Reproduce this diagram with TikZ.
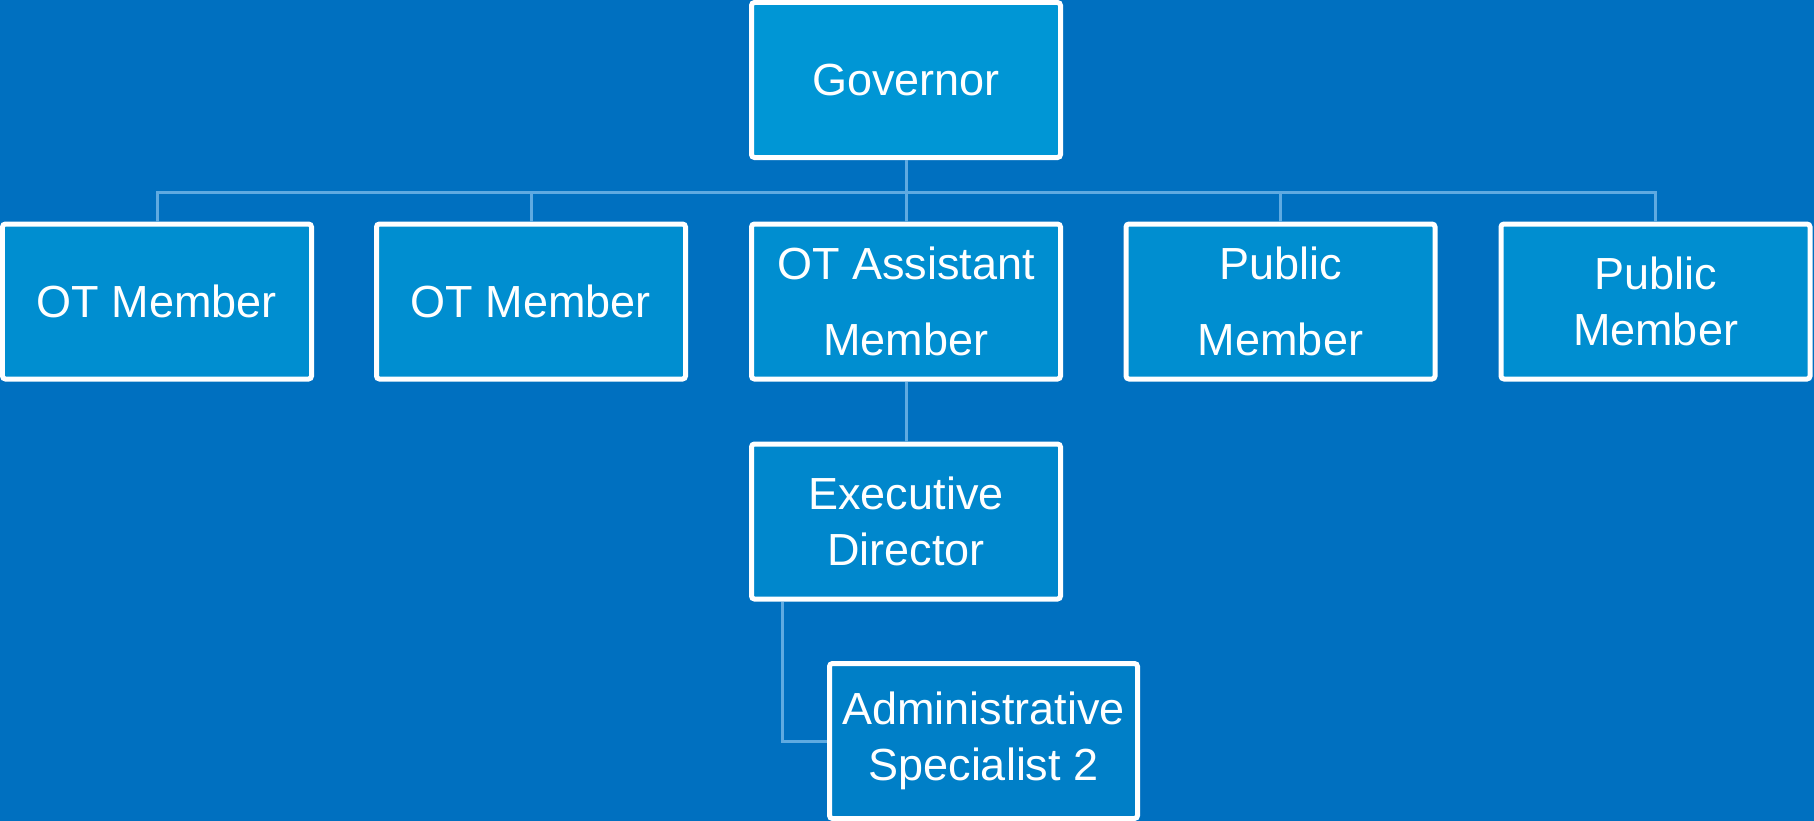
\documentclass[tikz,border=0pt]{standalone}
\usepackage{fontspec}
\setmainfont{Liberation Sans}
\definecolor{bg}{RGB}{0,112,192}
\definecolor{lvA}{RGB}{0,150,213}
\definecolor{lvB}{RGB}{0,142,208}
\definecolor{lvC}{RGB}{0,135,204}
\definecolor{lvD}{RGB}{0,127,199}
\definecolor{connc}{RGB}{95,170,225}
\begin{document}
\begin{tikzpicture}[x=1bp,y=-1bp,
  box/.style={draw=white, line width=5bp, rounded corners=3bp,
    minimum width=309bp, minimum height=155bp, text=white, align=center,
    inner sep=0pt, font=\fontsize{45bp}{56bp}\selectfont},
  wide/.style={font=\fontsize{45bp}{76bp}\selectfont},
  conn/.style={draw=connc, line width=3bp}]
\fill[bg] (0,0) rectangle (1814,821);
\useasboundingbox (0,0) rectangle (1814,821);
\coordinate (bar) at (0,192);
\coordinate (edx) at (782,0);
\node[box, fill=lvA] (gov) at (906,80) {Governor};
\node[box, fill=lvB] (m1) at (157,301.5) {OT Member};
\node[box, fill=lvB] (m2) at (531,301.5) {OT Member};
\node[box, fill=lvB, wide] (a) at (906,301.5) {OT Assistant\\Member};
\node[box, fill=lvB, wide] (p1) at (1280.5,301.5) {Public\\Member};
\node[box, fill=lvB] (p2) at (1655.5,301.5) {Public\\Member};
\node[box, fill=lvC] (ed) at (906,521.5) {Executive\\Director};
\node[box, fill=lvD, minimum width=308bp] (adm) at (983.5,741) {Administrative\\Specialist 2};
\draw[conn] (m1.north) -- (m1.north |- bar) -- (p2.north |- bar) -- (p2.north);
\draw[conn] (gov.south) -- (a.north);
\draw[conn] (m2.north) -- (m2.north |- bar);
\draw[conn] (p1.north) -- (p1.north |- bar);
\draw[conn] (a.south) -- (ed.north);
\draw[conn] (ed.south -| edx) |- (adm.west);
\end{tikzpicture}
\end{document}
